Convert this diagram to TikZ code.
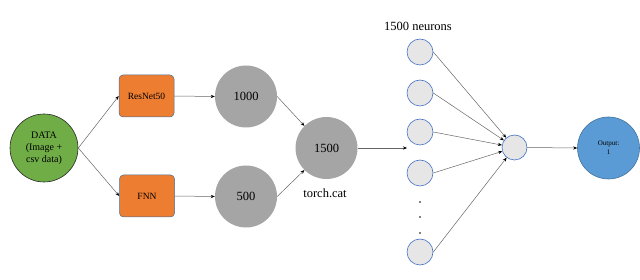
\documentclass[tikz,border=0pt]{standalone}
\usepackage{fontspec}
\setmainfont{Liberation Serif}
\usetikzlibrary{arrows.meta}
\definecolor{dgreen}{HTML}{70AD47}
\definecolor{dorange}{HTML}{ED7D31}
\definecolor{dgray}{HTML}{A5A5A5}
\definecolor{nfill}{HTML}{E7E6E6}
\definecolor{nblue}{HTML}{4472C4}
\definecolor{oblue}{HTML}{5B9BD5}
\definecolor{eblue}{HTML}{41719C}
\tikzset{
  x=1pt, y=-1pt,
  datanode/.style={circle, fill=dgreen, draw=black!85, line width=0.6pt, minimum size=68pt, inner sep=0pt, align=center, font=\fontsize{10}{12}\selectfont},
  boxnode/.style={rectangle, rounded corners=4pt, fill=dorange, draw=eblue, line width=0.5pt, minimum width=55pt, minimum height=42pt, inner sep=0pt, font=\fontsize{9.5}{11}\selectfont},
  graynode/.style={circle, fill=dgray, minimum size=62pt, inner sep=0pt, font=\fontsize{12.5}{14}\selectfont},
  neuron/.style={circle, fill=nfill, draw=nblue, line width=0.6pt, minimum size=26pt, inner sep=0pt},
  outnode/.style={circle, fill=oblue, draw=eblue, line width=0.6pt, minimum size=62pt, inner sep=0pt, align=center, font=\fontsize{7}{9}\selectfont},
  dotnode/.style={circle, fill=black, minimum size=1.8pt, inner sep=0pt},
  lbl/.style={font=\fontsize{12.5}{14}\selectfont, inner sep=0pt},
  conn/.style={draw=black!60, line width=0.5pt, -{Stealth[length=4pt,width=3.2pt,color=black]}}
}
\begin{document}
\begin{tikzpicture}
\useasboundingbox (0,0) rectangle (640,280);
\node[datanode] (data) at (44,148) {DATA\\(Image +\\csv data)};
\node[boxnode] (res) at (146.5,96) {ResNet50};
\node[boxnode] (fnn) at (147,196) {FNN};
\node[graynode] (c1000) at (246,96.5) {1000};
\node[graynode] (c500) at (246,196.5) {500};
\node[graynode] (c1500) at (326.5,148) {1500};
\node[lbl] (tc) at (325,193) {torch.cat};
\node[lbl] (nl) at (418,26) {1500 neurons};
\node[neuron] (n1) at (420,52) {};
\node[neuron] (n2) at (420,93) {};
\node[neuron] (n3) at (420,132) {};
\node[neuron] (n4) at (420,173) {};
\node[neuron] (n5) at (420,252) {};
\node[dotnode] (d1) at (420,202) {};
\node[dotnode] (d2) at (420,217) {};
\node[dotnode] (d3) at (420,233) {};
\node[neuron, minimum size=25pt] (on) at (514.5,147.5) {};
\node[outnode] (out) at (608.5,148) {Output:\\1};
\coordinate (colin) at (407,148);

\draw[conn] (data.east) -- (res.west);
\draw[conn] (data.east) -- (fnn.west);
\draw[conn] (res.east) -- (c1000.west);
\draw[conn] (fnn.east) -- (c500.west);
\draw[conn] (c1000.east) -- (c1500.135);
\draw[conn] (c500.east) -- (c1500.225);
\draw[conn] (c1500.east) -- (colin);
\foreach \n in {n1,n2,n3,n4,n5} \draw[conn] (\n.east) -- (on);
\draw[conn] (on.east) -- (out.west);
\end{tikzpicture}
\end{document}
